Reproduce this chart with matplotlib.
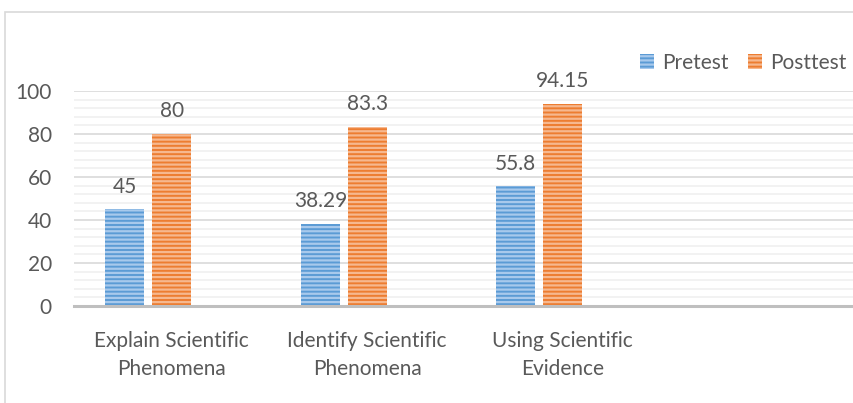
import matplotlib
matplotlib.use("Agg")
import matplotlib.pyplot as plt
from matplotlib.patches import Rectangle, Patch
import numpy as np

categories = ["Explain Scientific\nPhenomena", "Identify Scientific\nPhenomena", "Using Scientific\nEvidence"]
pretest = [45, 38.29, 55.8]
posttest = [80, 83.3, 94.15]
value_labels_pre = ["45", "38.29", "55.8"]
value_labels_post = ["80", "83.3", "94.15"]
series_names = ["Pretest", "Posttest"]

plt.rcParams['font.family'] = ['Lato', 'DejaVu Sans']
plt.rcParams['hatch.linewidth'] = 1.6
text_color = "#595959"
fs = 15

fig = plt.figure(figsize=(8.54, 4.03), dpi=100)
ax = fig.add_axes([74 / 854, 1 - 306 / 403, (856 - 74) / 854, (306 - 91) / 403])

x = np.arange(len(categories))
width = 0.2
offset = 0.24

blue, blue_stripe = "#5b9bd5", "#a8c9ec"
orange, orange_stripe = "#ed7d31", "#f6b88f"

b1 = ax.bar(x - offset, pretest, width, color=blue, edgecolor=blue_stripe,
            hatch="----", linewidth=0, zorder=3)
b2 = ax.bar(x, posttest, width, color=orange, edgecolor=orange_stripe,
            hatch="----", linewidth=0, zorder=3)

for bars, labels in ((b1, value_labels_pre), (b2, value_labels_post)):
    for rect, lab in zip(bars, labels):
        ax.annotate(lab, (rect.get_x() + rect.get_width() / 2, rect.get_height()),
                    xytext=(0, 9), textcoords="offset points",
                    ha="center", va="bottom", fontsize=fs, color=text_color)

ax.set_xlim(-0.5, 3.5)
ax.set_ylim(0, 100)
ax.set_yticks(np.arange(0, 101, 20))
ax.set_yticks(np.arange(0, 101, 4), minor=True)
ax.set_xticks(x)
ax.set_xticklabels(categories, linespacing=1.5)
ax.tick_params(axis="x", length=0, pad=18, labelsize=fs, labelcolor=text_color)
ax.tick_params(axis="y", which="both", length=0, pad=16, labelsize=fs, labelcolor=text_color)

ax.grid(axis="y", which="major", color="#d9d9d9", linewidth=1.2, zorder=0)
ax.grid(axis="y", which="minor", color="#f0f0f0", linewidth=1.2, zorder=0)
for s in ("top", "right", "left"):
    ax.spines[s].set_visible(False)
ax.spines["bottom"].set_color("#bfbfbf")
ax.spines["bottom"].set_linewidth(2.2)
ax.spines["bottom"].set_zorder(4)

handles = [Patch(facecolor=blue, edgecolor=blue_stripe, hatch="----", linewidth=0),
           Patch(facecolor=orange, edgecolor=orange_stripe, hatch="----", linewidth=0)]
fig.legend(handles, series_names, loc="center right", bbox_to_anchor=(847 / 854, 1 - 63 / 403),
           ncol=2, frameon=False, fontsize=fs, labelcolor=text_color,
           handlelength=0.7, handleheight=0.7, handletextpad=0.4, columnspacing=0.9,
           borderpad=0, borderaxespad=0)

fig.add_artist(Rectangle((5.5 / 854, -0.1), 1.2, 1.1 - 11.5 / 403, transform=fig.transFigure,
                         fill=False, edgecolor="#d9d9d9", linewidth=1.2))

fig.savefig("out.png", dpi=100)
